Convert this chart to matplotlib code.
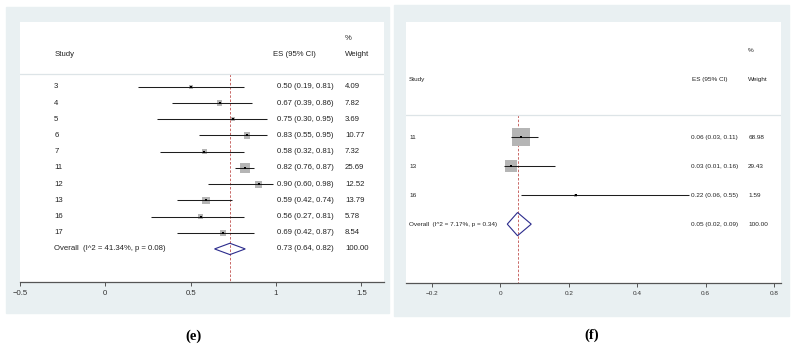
import matplotlib
matplotlib.use("Agg")
from matplotlib import pyplot as plt
from matplotlib.patches import Rectangle, Polygon

plt.rcParams['font.family'] = ['Liberation Sans', 'DejaVu Sans']

# panel (e)
e_study = ["3", "4", "5", "6", "7", "11", "12", "13", "16", "17"]
e_es = [0.50, 0.67, 0.75, 0.83, 0.58, 0.82, 0.90, 0.59, 0.56, 0.69]
e_lo = [0.19, 0.39, 0.30, 0.55, 0.32, 0.76, 0.60, 0.42, 0.27, 0.42]
e_hi = [0.81, 0.86, 0.95, 0.95, 0.81, 0.87, 0.98, 0.74, 0.81, 0.87]
e_weight = [4.09, 7.82, 3.69, 10.77, 7.32, 25.69, 12.52, 13.79, 5.78, 8.54]
e_overall = (0.73, 0.64, 0.82)
e_overall_label = "Overall  (I^2 = 41.34%, p = 0.08)"
e_ticks = [-0.5, 0, 0.5, 1, 1.5]
e_ticklabels = ["\u22120.5", "0", "0.5", "1", "1.5"]

# panel (f)
f_study = ["11", "13", "16"]
f_es = [0.06, 0.03, 0.22]
f_lo = [0.03, 0.01, 0.06]
f_hi = [0.11, 0.16, 0.55]
f_weight = [68.98, 29.43, 1.59]
f_overall = (0.05, 0.02, 0.09)
f_overall_label = "Overall  (I^2 = 7.17%, p = 0.34)"
f_ticks = [-0.2, 0, 0.2, 0.4, 0.6, 0.8]
f_ticklabels = ["\u22120.2", "0", "0.2", "0.4", "0.6", "0.8"]

W, H = 796, 348
BG = "#e9f0f2"
fig = plt.figure(figsize=(W / 100, H / 100), dpi=100)


def px_rect(x0, y0, x1, y1):
    # pixel box (top-left origin) -> figure fraction
    return [x0 / W, 1 - y1 / H, (x1 - x0) / W, (y1 - y0) / H]


def forest(ax, study, es, lo, hi, weight, overall, overall_label,
           ticks, ticklabels, xlim, ylim, fs, col_study, col_es_hdr,
           col_es, col_w, box_k, diamond_h):
    ax.set_xlim(*xlim)
    ax.set_ylim(*ylim)
    ax.set_facecolor("white")
    for s in ["top", "left", "right"]:
        ax.spines[s].set_visible(False)
    ax.spines["bottom"].set_color("#555555")
    ax.spines["bottom"].set_linewidth(0.9)
    ax.set_yticks([])
    ax.set_xticks(ticks)
    ax.set_xticklabels(ticklabels, fontsize=fs, color="#333333")
    ax.tick_params(axis="x", length=3, width=0.7, color="#555555", pad=3)

    # header
    ax.text(col_study, -1, "Study", fontsize=fs, va="center", ha="left", color="#222222")
    ax.text(col_es_hdr, -1, "ES (95% CI)", fontsize=fs, va="center", ha="left", color="#222222")
    ax.text(col_w, -2, "%", fontsize=fs, va="center", ha="left", color="#222222")
    ax.text(col_w, -1, "Weight", fontsize=fs, va="center", ha="left", color="#222222")
    ax.axhline(0.22, color="#dde4e7", lw=0.9)

    # reference line at overall estimate
    ax.plot([overall[0], overall[0]], [0.22, ylim[0]], color="#c0504d",
            lw=0.6, ls=(0, (3, 2)), zorder=1)

    rows = list(range(1, len(study) + 1))
    sizes = [(box_k * w ** 0.5 * 0.72) ** 2 for w in weight]
    ax.scatter(es, rows, s=sizes, marker="s", color="#b5b5b5", lw=0, zorder=2)
    ax.hlines(rows, lo, hi, color="#1e1e1e", lw=0.75, zorder=3)
    ax.scatter(es, rows, s=3.5, marker="s", color="black", lw=0, zorder=4)

    for r, st, e, l, h, w in zip(rows, study, es, lo, hi, weight):
        ax.text(col_study, r, st, fontsize=fs, va="center", ha="left", color="#222222")
        ax.text(col_es, r, "{:.2f} ({:.2f}, {:.2f})".format(e, l, h),
                fontsize=fs, va="center", ha="left", color="#222222")
        ax.text(col_w, r, "{:.2f}".format(w), fontsize=fs, va="center", ha="left", color="#222222")

    ro = len(study) + 1
    oe, ol, oh = overall
    d = diamond_h / 2
    ax.add_patch(Polygon([[ol, ro], [oe, ro - d], [oh, ro], [oe, ro + d]],
                         closed=True, fill=False, edgecolor="#2b2b8c", lw=0.8, zorder=3))
    ax.text(col_study, ro, overall_label, fontsize=fs, va="center", ha="left", color="#222222")
    ax.text(col_es, ro, "{:.2f} ({:.2f}, {:.2f})".format(oe, ol, oh),
            fontsize=fs, va="center", ha="left", color="#222222")
    ax.text(col_w, ro, "100.00", fontsize=fs, va="center", ha="left", color="#222222")


# gray panel backgrounds
fig.patches.append(Rectangle((6 / W, 1 - 313 / H), 383 / W, 306 / H,
                             transform=fig.transFigure, color=BG, zorder=-1))
fig.patches.append(Rectangle((394 / W, 1 - 316 / H), 395 / W, 311 / H,
                             transform=fig.transFigure, color=BG, zorder=-1))

ax1 = fig.add_axes(px_rect(20, 22, 384, 282))
forest(ax1, e_study, e_es, e_lo, e_hi, e_weight, e_overall, e_overall_label,
       e_ticks, e_ticklabels, xlim=(-0.5, 1.633), ylim=(13.04, -3.0), fs=5.6,
       col_study=-0.30, col_es_hdr=0.985, col_es=1.008, col_w=1.405,
       box_k=2.0, diamond_h=0.7)

ax2 = fig.add_axes(px_rect(406, 22, 781, 283))
forest(ax2, f_study, f_es, f_lo, f_hi, f_weight, f_overall, f_overall_label,
       f_ticks, f_ticklabels, xlim=(-0.276, 0.82), ylim=(6.03, -2.97), fs=4.6,
       col_study=-0.267, col_es_hdr=0.56, col_es=0.557, col_w=0.724,
       box_k=2.2, diamond_h=0.8)

fig.text(194 / W, 1 - 336 / H, "(e)", fontsize=10.5, fontweight="bold",
         family="Liberation Serif", ha="center", va="center")
fig.text(592 / W, 1 - 335 / H, "(f)", fontsize=10.5, fontweight="bold",
         family="Liberation Serif", ha="center", va="center")

fig.savefig("out.png", dpi=100)
